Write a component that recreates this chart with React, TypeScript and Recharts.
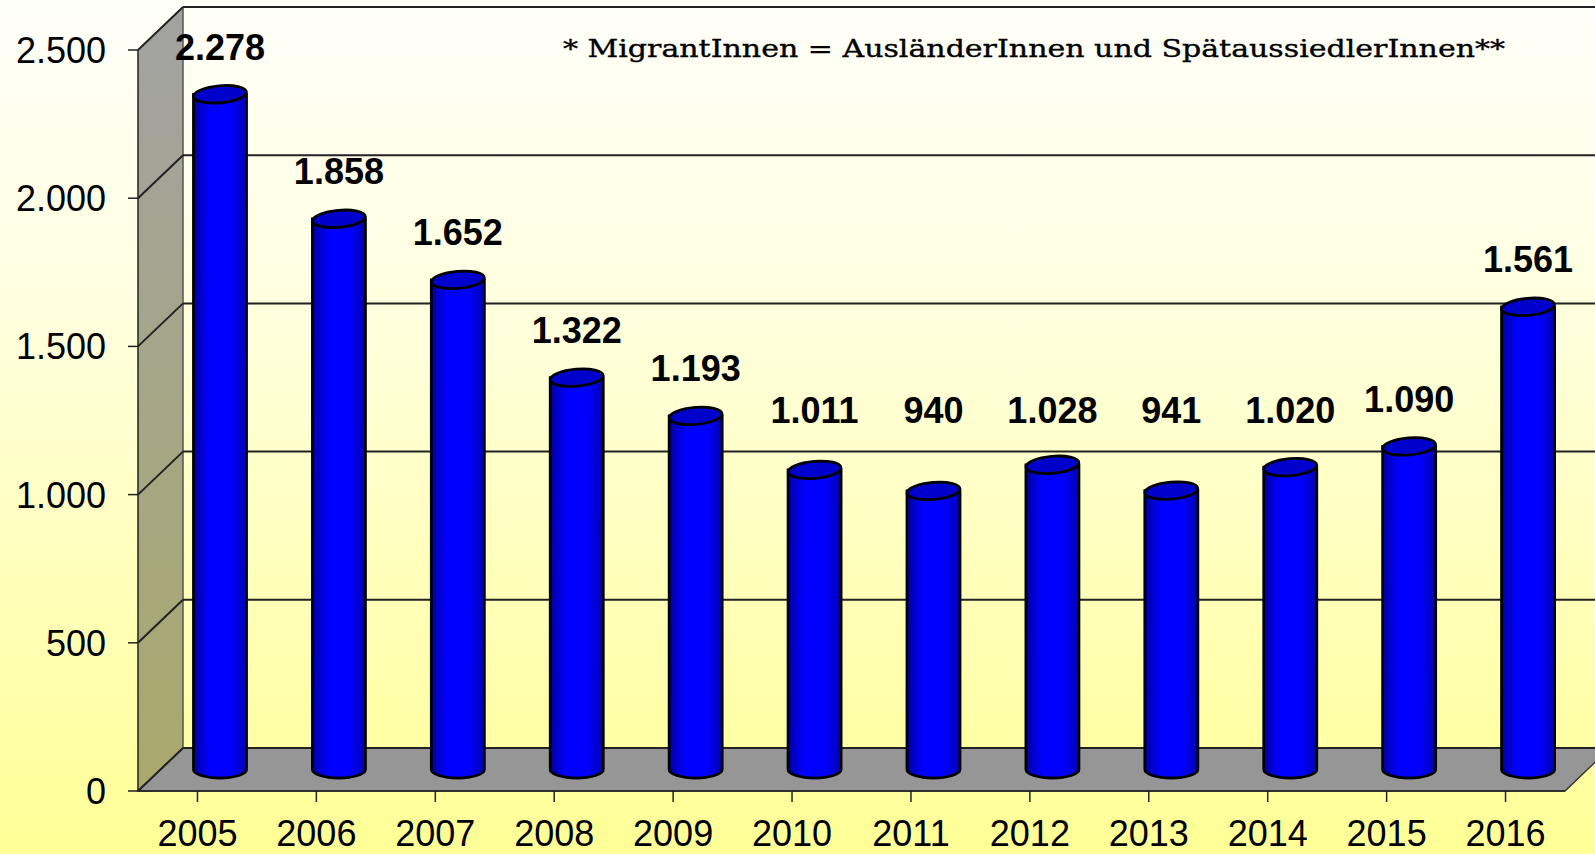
import { BarChart, Bar, XAxis, YAxis, CartesianGrid, LabelList } from "recharts";

const years = ["2005", "2006", "2007", "2008", "2009", "2010", "2011", "2012", "2013", "2014", "2015", "2016"];
const migrants = [2278, 1858, 1652, 1322, 1193, 1011, 940, 1028, 941, 1020, 1090, 1561];
const yTicks = [0, 500, 1000, 1500, 2000, 2500];
const note = "* MigrantInnen = AusländerInnen und SpätaussiedlerInnen**";

const data = years.map((year, i) => ({ year, value: migrants[i] }));

// depth of the fake 3d box
const DX = 45;
const DY = 43;
const LABEL_FLOOR = 410;

const fmt = (v: number) => String(v).replace(/\B(?=(\d{3})+(?!\d))/g, ".");

function GridLine(props: any) {
  const { x1, y1, x2, index, y, height } = props;
  const bottom = y + height;
  return (
    <g>
      {index === 0 && (
        <g>
          <polygon
            points={`${x1},${y} ${x1 + DX},${y - DY} ${x1 + DX},${bottom - DY} ${x1},${bottom}`}
            fill="url(#sideWall)"
          />
          <polygon
            points={`${x1},${bottom} ${x1 + DX},${bottom - DY} ${x2 + DX},${bottom - DY} ${x2},${bottom}`}
            fill="#969696"
            stroke="#333"
            strokeWidth={1.5}
          />
          <line x1={x1 + DX} y1={y - DY} x2={x1 + DX} y2={bottom - DY} stroke="#555" strokeWidth={1.5} />
        </g>
      )}
      <line x1={x1} y1={y1} x2={x1 + DX} y2={y1 - DY} stroke="#222" strokeWidth={2} />
      <line x1={x1 + DX} y1={y1 - DY} x2={x2 + DX} y2={y1 - DY} stroke="#222" strokeWidth={2} />
    </g>
  );
}

function Cylinder(props: any) {
  const { x, y, width, height } = props;
  const cx = x + width / 2 + DX / 2;
  const top = y - DY / 2;
  const bottom = y + height - DY / 2;
  const rx = width / 2;
  const ry = 8.5;
  const l = cx - rx;
  const r = cx + rx;
  return (
    <g>
      <path
        d={`M${l},${top} L${l},${bottom} A${rx},${ry} 0 0 0 ${r},${bottom} L${r},${top} Z`}
        fill="url(#cylBody)"
        stroke="#000"
        strokeWidth={2.8}
      />
      <ellipse
        cx={cx}
        cy={top}
        rx={rx}
        ry={ry}
        fill="#0000CC"
        stroke="#000"
        strokeWidth={2.8}
        transform={`rotate(-5 ${cx} ${top})`}
      />
    </g>
  );
}

function ValueLabel(props: any) {
  const { x, y, width, value } = props;
  const cx = x + width / 2 + DX / 2;
  const cy = Math.min(y - DY / 2 - 47, LABEL_FLOOR);
  return (
    <text
      x={cx}
      y={cy}
      textAnchor="middle"
      dominantBaseline="central"
      fontFamily="Liberation Sans, Arial, sans-serif"
      fontWeight="bold"
      fontSize={36}
      fill="#000"
    >
      {fmt(value)}
    </text>
  );
}

function YTick(props: any) {
  const { y, payload } = props;
  return (
    <text x={106} y={y + 13} textAnchor="end" fontFamily="Liberation Sans, Arial, sans-serif" fontSize={36} fill="#000">
      {fmt(payload.value)}
    </text>
  );
}

function XTick(props: any) {
  const { x, y, payload } = props;
  return (
    <text x={x} y={y + 42} textAnchor="middle" fontFamily="Liberation Sans, Arial, sans-serif" fontSize={36} fill="#000">
      {payload.value}
    </text>
  );
}

export default function App() {
  return (
    <div
      style={{
        position: "absolute",
        left: 0,
        top: 0,
        width: 1595,
        height: 854,
        background: "linear-gradient(to bottom, #FFFFFA 0%, #FFFFE0 35%, #FFFF96 100%)",
      }}
    >
      <BarChart width={1595} height={854} data={data} margin={{ top: 50, right: 30, bottom: 0, left: 38 }} barSize={53}>
        <defs>
          <linearGradient id="cylBody" x1="0" y1="0" x2="1" y2="0">
            <stop offset="0%" stopColor="#0000A0" />
            <stop offset="30%" stopColor="#0000FF" />
            <stop offset="70%" stopColor="#0000FF" />
            <stop offset="100%" stopColor="#0000B0" />
          </linearGradient>
          <linearGradient id="sideWall" x1="0" y1="0" x2="0" y2="1">
            <stop offset="0%" stopColor="#A2A2A2" />
            <stop offset="100%" stopColor="#A9A96C" />
          </linearGradient>
        </defs>
        <CartesianGrid horizontal={GridLine} vertical={false} />
        <XAxis
          dataKey="year"
          height={63}
          tick={XTick}
          tickSize={11}
          axisLine={{ stroke: "#222", strokeWidth: 1.5 }}
          tickLine={{ stroke: "#222", strokeWidth: 1.5 }}
          interval={0}
        />
        <YAxis
          width={100}
          domain={[0, 2500]}
          ticks={yTicks}
          tick={YTick}
          tickSize={10}
          axisLine={{ stroke: "#222", strokeWidth: 1.5 }}
          tickLine={{ stroke: "#222", strokeWidth: 1.5 }}
        />
        <Bar dataKey="value" shape={Cylinder} isAnimationActive={false}>
          <LabelList dataKey="value" content={ValueLabel} />
        </Bar>
        <text
          x={563}
          y={57}
          fontFamily="DejaVu Serif, serif"
          fontSize={24}
          fill="#000"
          stroke="#000"
          strokeWidth={0.35}
          textLength={942}
          lengthAdjust="spacingAndGlyphs"
        >
          {note}
        </text>
      </BarChart>
    </div>
  );
}
